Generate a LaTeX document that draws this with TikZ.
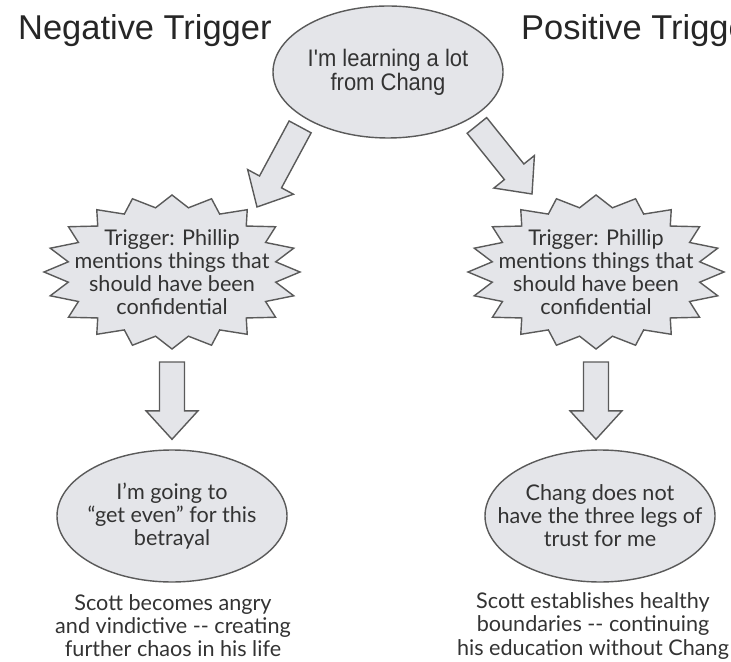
\documentclass[tikz,border=0pt]{standalone}
\usepackage{fontspec}
\setmainfont{Lato}
\newfontfamily\headfont{Liberation Sans}
\newfontfamily\narrowfont[FakeStretch=0.92]{Liberation Sans}
\usetikzlibrary{calc,shapes.geometric}

\definecolor{shade}{HTML}{E4E5E9}
\definecolor{rim}{HTML}{5A5A5A}
\definecolor{ink}{HTML}{333333}

% block arrow from #1 (tail) to #2 (tip)
\newcommand{\fatarrow}[2]{%
  \coordinate (base) at ($(#2)!0.57cm!(#1)$);
  \draw [fatarrow] ($(#1)!0.25cm!90:(#2)$) -- ($(base)!0.25cm!90:(#2)$)
        -- ($(base)!0.52cm!90:(#2)$) -- (#2) -- ($(base)!0.52cm!-90:(#2)$)
        -- ($(base)!0.25cm!-90:(#2)$) -- ($(#1)!0.25cm!-90:(#2)$) -- cycle;}

% jagged bubble: name, centre, text
\newcommand{\starburst}[3]{%
  \draw [burst, shift={#2}] plot [samples at={0,...,39}]
        ({(2.56-0.46*mod(\x,2))*cos(9*\x)}, {(1.54-0.24*mod(\x,2))*sin(9*\x)}) -- cycle;
  \node [bodytext] (#1) at #2 {#3};}

\begin{document}
\begin{tikzpicture}[bubble/.style = {ellipse, draw=rim, fill=shade, line width=0.8pt,
                                     minimum width=4.6cm, minimum height=2.64cm, inner sep=0pt},
                    burst/.style = {draw=rim, fill=shade, line width=0.8pt},
                    fatarrow/.style = {draw=rim, fill=shade, line width=0.8pt, line join=miter},
                    bodytext/.style = {align=center, text=ink, font=\fontsize{12.3}{13.1}\selectfont},
                    heading/.style = {anchor=base west, text=black!85,
                                      font=\headfont\fontsize{19.6}{23}\selectfont}]
  \useasboundingbox (0, 0) rectangle (14.62, 13.22);
  \clip (0, 0) rectangle (14.62, 13.22);

  % Headings.
  \node [heading] (neghead) at (0.24, 12.42) {Negative Trigger};
  \node [heading] (poshead) at (10.30, 12.42) {Positive Trigger};

  % Starting thought.
  \node [bubble] (top) at (7.76, 11.78) {};
  \node [bodytext, font=\narrowfont\fontsize{13.6}{12.2}\selectfont] (toptext) at (top)
        {I'm learning a lot\\from Chang};

  % Triggers.
  \starburst{trigL}{(3.44, 7.78)}{Trigger: Phillip\\mentions things that\\should have been\\confidential}
  \starburst{trigR}{(11.92, 7.78)}{Trigger: Phillip\\mentions things that\\should have been\\confidential}

  % Reactions.
  \node [bubble] (goL) at (3.44, 2.90) {};
  \node [bodytext] (goLtext) at (goL) {I'm going to\\``get even'' for this\\betrayal};
  \node [bubble] (goR) at (12.0, 2.90) {};
  \node [bodytext] (goRtext) at (goR) {Chang does not\\have the three legs of\\trust for me};

  % Outcomes.
  \node [bodytext] (negcap) at (3.46, 0.70)
        {Scott becomes angry\\and vindictive -{}- creating\\further chaos in his life};
  \node [bodytext] (poscap) at (11.86, 0.70)
        {Scott establishes healthy\\boundaries -{}- continuing\\his education without Chang};

  % Arrows.
  \coordinate (negtail) at ($(top)!1.12!(top.212)$);
  \coordinate (negtip) at ($(trigL)+(1.70, 1.30)$);
  \coordinate (postail) at ($(top)!1.11!(top.329)$);
  \coordinate (postip) at ($(trigR)+(-1.28, 1.56)$);
  \fatarrow{negtail}{negtip}
  \fatarrow{postail}{postip}

  \coordinate (downLtail) at ($(trigL)+(0, -1.8)$);
  \coordinate (downLtip) at ($(trigL |- goL.north)+(0, 0.2)$);
  \coordinate (downRtail) at ($(trigR)+(0, -1.8)$);
  \coordinate (downRtip) at ($(trigR |- goR.north)+(0, 0.2)$);
  \fatarrow{downLtail}{downLtip}
  \fatarrow{downRtail}{downRtip}
\end{tikzpicture}
\end{document}
